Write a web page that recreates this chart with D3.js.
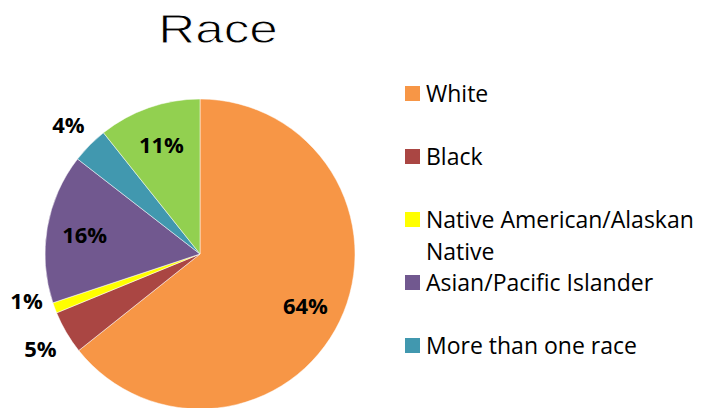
<!DOCTYPE html>
<html>
<head>
<meta charset="utf-8">
<script src="https://cdn.jsdelivr.net/npm/d3@7"></script>
<style>
  body { margin: 0; background: #fff; }
</style>
</head>
<body>
<div id="chart"></div>
<script>
// data (share of respondents, %)
var categories = ['White', 'Black', 'Native American/Alaskan Native', 'Asian/Pacific Islander', 'More than one race', 'Other'];
var values = [64.3, 4.5, 1.1, 15.6, 3.8, 10.7];
var colors = ['#F79646', '#AA4643', '#FFFF00', '#71588F', '#4198AF', '#92D050'];
// only these show up in the legend (the last one falls off the bottom)
var legendLines = [['White'], ['Black'], ['Native American/Alaskan', 'Native'], ['Asian/Pacific Islander'], ['More than one race']];

var svgWidth = 715;
var svgHeight = 408;
var radius = 155;

var svg = d3.select('#chart')
  .append('svg')
  .attr('width', svgWidth)
  .attr('height', svgHeight);

// title - the original font is wide and light, so stretch Liberation a bit
// and shave the strokes with a thin white outline
svg.append('text')
  .attr('transform', 'translate(218, 43) scale(1.28, 1)')
  .attr('text-anchor', 'middle')
  .style('font-family', 'Liberation Sans')
  .style('font-size', '40px')
  .style('fill', '#000')
  .style('stroke', '#fff')
  .style('stroke-width', 0.9)
  .text('Race');

var color = d3.scaleOrdinal().domain(categories).range(colors);

var pie = d3.pie().sort(null).value(d => d.value);
var pieData = pie(categories.map((c, i) => ({ name: c, value: values[i] })));

var arc = d3.arc().innerRadius(0).outerRadius(radius);
var innerLabelArc = d3.arc().innerRadius(117).outerRadius(117);
var outerLabelArc = d3.arc().innerRadius(185).outerRadius(185);

var pieGroup = svg.append('g')
  .attr('transform', 'translate(200, 254)');

pieGroup.selectAll('path')
  .data(pieData)
  .enter()
  .append('path')
  .attr('d', arc)
  .attr('fill', d => color(d.data.name))
  .attr('stroke', '#fff')
  .attr('stroke-width', 0.5);

// label positions: small slices get theirs outside the pie
var labelPos = pieData.map(function(d) {
  var outside = d.data.value < 5;
  var c = outside ? outerLabelArc.centroid(d) : innerLabelArc.centroid(d);
  return { d: d, outside: outside, x: c[0], y: c[1] };
});

// push outside labels apart so they don't crowd each other
var outs = labelPos.filter(p => p.outside).sort((a, b) => b.y - a.y);
for (var i = 1; i < outs.length; i++) {
  if (outs[i - 1].y - outs[i].y < 48) outs[i].y = outs[i - 1].y - 48;
}

pieGroup.selectAll('text')
  .data(labelPos)
  .enter()
  .append('text')
  .attr('x', p => p.x)
  .attr('y', p => p.y)
  .attr('text-anchor', 'middle')
  .attr('dominant-baseline', 'central')
  .style('font-family', 'Open Sans')
  .style('font-weight', 'bold')
  .style('font-size', '22px')
  .style('fill', '#000')
  .text(p => Math.round(p.d.data.value) + '%');

// legend
var legend = svg.append('g')
  .attr('transform', 'translate(405, 86)');

var items = legend.selectAll('g')
  .data(legendLines)
  .enter()
  .append('g')
  .attr('transform', (d, i) => 'translate(0,' + (i * 63) + ')');

items.append('rect')
  .attr('width', 15)
  .attr('height', 15)
  .attr('fill', (d, i) => colors[i]);

items.append('text')
  .attr('x', 21)
  .attr('y', 16)
  .style('font-family', 'Open Sans')
  .style('font-size', '23px')
  .style('fill', '#000')
  .selectAll('tspan')
  .data(d => d)
  .enter()
  .append('tspan')
  .attr('x', 21)
  .attr('dy', (d, i) => i === 0 ? 0 : 32)
  .text(d => d);
</script>
</body>
</html>
